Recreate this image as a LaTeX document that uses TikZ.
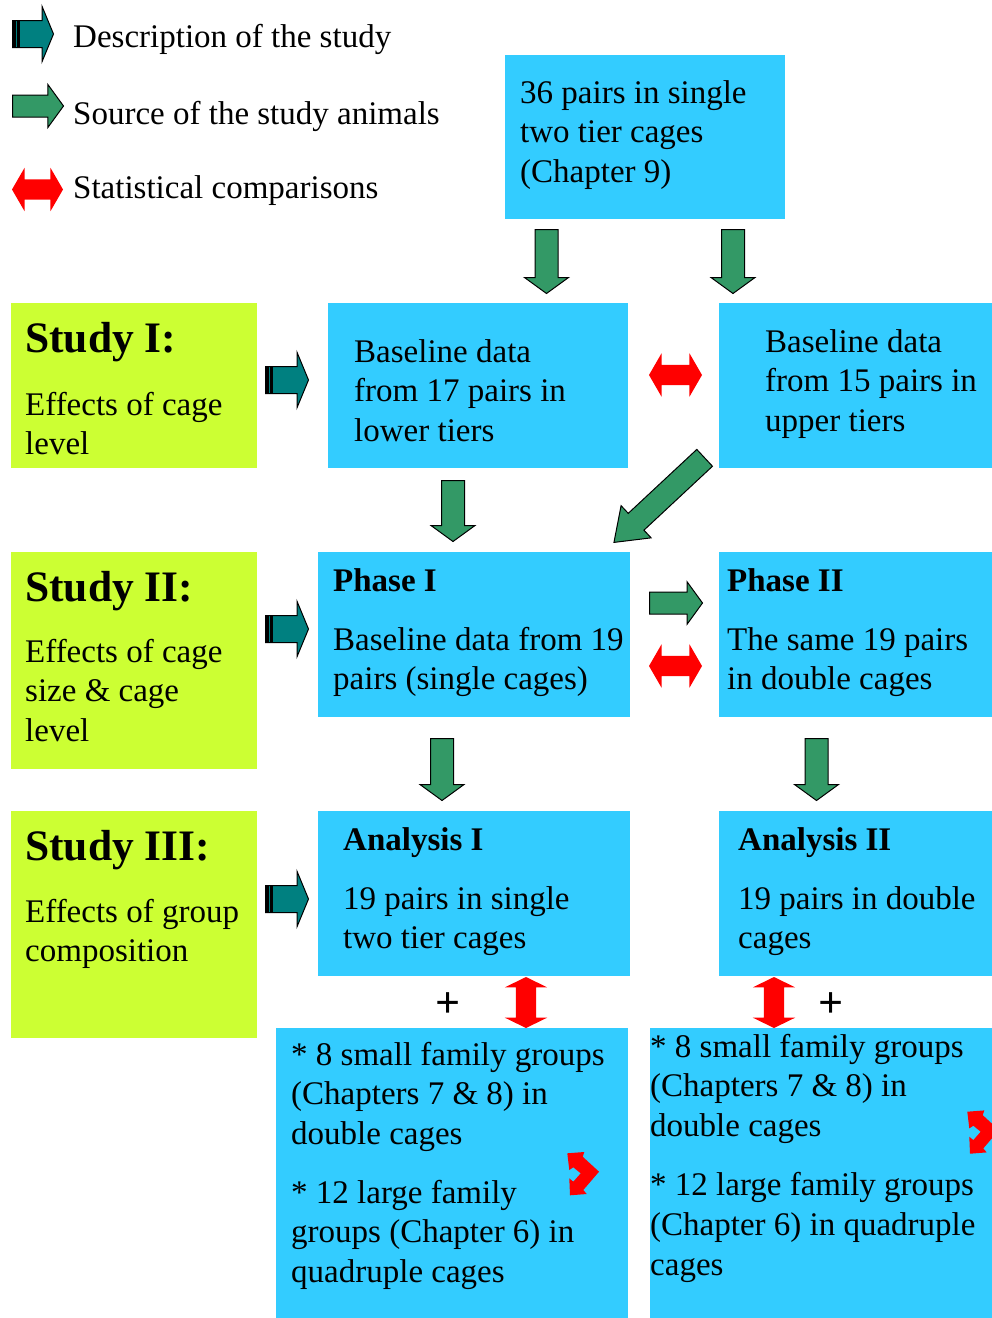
\documentclass[tikz,border=0pt]{standalone}
\usepackage{fontspec}
\setmainfont{Liberation Serif}
\usepackage{xcolor}
\usepackage{tikz}
\usetikzlibrary{shapes.arrows,positioning}
\definecolor{boxcyan}{RGB}{51,204,255}
\definecolor{studylime}{RGB}{204,255,51}
\definecolor{srcgreen}{RGB}{51,153,102}
\definecolor{descteal}{RGB}{0,128,128}
\tikzset{
  bluebox/.style={rectangle,fill=boxcyan,anchor=north west,inner sep=0pt},
  studybox/.style={rectangle,fill=studylime,anchor=north west,inner sep=0pt},
  bodytext/.style={anchor=base west,align=flush left,inner sep=0pt,text width=340pt,font=\fontsize{33}{39.6}\selectfont},
  headtext/.style={anchor=base west,inner sep=0pt,font=\fontsize{43.5}{50}\selectfont\bfseries},
  legendtext/.style={anchor=base west,inner sep=0pt,font=\fontsize{33}{39.6}\selectfont},
  plussign/.style={anchor=base,inner sep=0pt,font=\fontsize{44}{50}\selectfont\bfseries},
  srcarrow/.style={single arrow,draw=black,line width=1pt,fill=srcgreen,inner xsep=0pt,inner ysep=11pt,anchor=tail,
    minimum height=53pt,single arrow head extend=10.5pt,single arrow tip angle=108},
  descarrow/.style={single arrow,draw=black,line width=1pt,fill=descteal,inner xsep=0pt,inner ysep=13pt,anchor=tail,
    minimum height=43pt,single arrow head extend=14pt,single arrow tip angle=135,
    path picture={
      \fill[black] ([xshift=0.5pt]path picture bounding box.south west) rectangle ([xshift=3pt]path picture bounding box.north west);
      \fill[black] ([xshift=4.5pt]path picture bounding box.south west) rectangle ([xshift=7pt]path picture bounding box.north west);}},
  cmparrow/.style={double arrow,fill=red,inner xsep=0pt,inner ysep=10pt,
    minimum height=53pt,double arrow head extend=11.5pt,double arrow tip angle=120},
  pics/bentarrow/.style={code={
    \fill[red] (0,0) -- (17,-1.3) -- (15.4,3.4) -- (31.7,18.4) -- (16,36.7) -- (19.4,40.7) -- (2.7,42)
      -- (2,25) -- (6,28.4) -- (13.4,20) -- (6,14) -- (2,16.7) -- cycle;}}
}

\begin{document}
\begin{tikzpicture}[x=1pt,y=-1pt]
  \useasboundingbox (0,0) rectangle (992,1318);

  % legend
  \node[descarrow,minimum height=41pt] (legdesc) at (12,34) {};
  \node[srcarrow,minimum height=51pt,inner ysep=10.5pt] (legsrc) at (12,106) {};
  \node[cmparrow,minimum height=51pt] (legcmp) at (37.5,189.5) {};
  \node[legendtext] (legdesctext) at (73,47) {Description of the study};
  \node[legendtext] (legsrctext) at (73,124) {Source of the study animals};
  \node[legendtext] (legcmptext) at (73,198) {Statistical comparisons};

  % boxes
  \node[bluebox,minimum width=280pt,minimum height=164pt] (top) at (505,55) {};
  \node[studybox,minimum width=246pt,minimum height=165pt] (study1) at (11,303) {};
  \node[bluebox,minimum width=300pt,minimum height=165pt] (base17) at (328,303) {};
  \node[bluebox,minimum width=273pt,minimum height=165pt] (base15) at (719,303) {};
  \node[studybox,minimum width=246pt,minimum height=217pt] (study2) at (11,552) {};
  \node[bluebox,minimum width=312pt,minimum height=165pt] (phase1) at (318,552) {};
  \node[bluebox,minimum width=273pt,minimum height=165pt] (phase2) at (719,552) {};
  \node[studybox,minimum width=246pt,minimum height=227pt] (study3) at (11,811) {};
  \node[bluebox,minimum width=312pt,minimum height=165pt] (anal1) at (318,811) {};
  \node[bluebox,minimum width=273pt,minimum height=165pt] (anal2) at (719,811) {};
  \node[bluebox,minimum width=352pt,minimum height=290pt] (grpleft) at (276,1028) {};
  \node[bluebox,minimum width=342pt,minimum height=290pt] (grpright) at (650,1028) {};

  % texts
  \node[bodytext] (toptext) at ([shift={(15,48)}]top.north west) {36 pairs in single\\two tier cages\\(Chapter 9)};
  \node[headtext] (study1head) at ([shift={(14,49)}]study1.north west) {Study I:};
  \node[bodytext] (study1text) at ([shift={(14,112)}]study1.north west) {Effects of cage\\level};
  \node[bodytext] (base17text) at ([shift={(26,59)}]base17.north west) {Baseline data\\from 17 pairs in\\lower tiers};
  \node[bodytext] (base15text) at ([shift={(46,49)}]base15.north west) {Baseline data\\from 15 pairs in\\upper tiers};
  \node[headtext] (study2head) at ([shift={(14,49)}]study2.north west) {Study II:};
  \node[bodytext] (study2text) at ([shift={(14,110)}]study2.north west) {Effects of cage\\size \& cage\\level};
  \node[bodytext] (phase1text) at ([shift={(15,39)}]phase1.north west) {\textbf{Phase I}\\[19.4pt]Baseline data from 19\\pairs (single cages)};
  \node[bodytext] (phase2text) at ([shift={(8,39)}]phase2.north west) {\textbf{Phase II}\\[19.4pt]The same 19 pairs\\in double cages};
  \node[headtext] (study3head) at ([shift={(14,49)}]study3.north west) {Study III:};
  \node[bodytext] (study3text) at ([shift={(14,111)}]study3.north west) {Effects of group\\composition};
  \node[bodytext] (anal1text) at ([shift={(25,39)}]anal1.north west) {\textbf{Analysis I}\\[19.4pt]19 pairs in single\\two tier cages};
  \node[bodytext] (anal2text) at ([shift={(19,39)}]anal2.north west) {\textbf{Analysis II}\\[19.4pt]19 pairs in double\\cages};
  \node[bodytext] (grplefttext) at ([shift={(15,37)}]grpleft.north west) {* 8 small family groups\\(Chapters 7 \& 8) in\\double cages\\[19.4pt]* 12 large family\\groups (Chapter 6) in\\quadruple cages};
  \node[bodytext] (grprighttext) at ([shift={(0,29)}]grpright.north west) {* 8 small family groups\\(Chapters 7 \& 8) in\\double cages\\[20pt]* 12 large family groups\\(Chapter 6) in quadruple\\cages};

  % arrows
  \node[srcarrow,rotate=-90,minimum height=64pt] (toptobase17) at (546.5,229) {};
  \node[srcarrow,rotate=-90,minimum height=64pt] (toptobase15) at (733,229) {};
  \node[descarrow] (study1arr) at (265,380) {};
  \node[cmparrow] (cmptiers) at (675.5,375) {};
  \node[srcarrow,rotate=-90,minimum height=61pt] (base17tophase1) at (453,480) {};
  \node[srcarrow,rotate=-137,minimum height=124pt,single arrow tip angle=72] (base15tophase1) at (705,457.5) {};
  \node[descarrow] (study2arr) at (265,629) {};
  \node[srcarrow,inner ysep=10.5pt,single arrow head extend=10pt] (phase1tophase2) at (649,603) {};
  \node[cmparrow] (cmpphases) at (675.5,666) {};
  \node[srcarrow,rotate=-90,minimum height=62pt] (phase1toanal1) at (442,738) {};
  \node[srcarrow,rotate=-90,minimum height=62pt] (phase2toanal2) at (816.5,738) {};
  \node[descarrow] (study3arr) at (265,899) {};
  \node[cmparrow,rotate=90,minimum height=51pt,double arrow head extend=11pt,double arrow tip angle=128] (cmpanal1) at (526,1002.5) {};
  \node[cmparrow,rotate=90,minimum height=51pt,double arrow head extend=11pt,double arrow tip angle=128] (cmpanal2) at (774,1002.5) {};
  \node[plussign] (plusleft) at (448,1017) {+};
  \node[plussign] (plusright) at (831,1017) {+};
  \pic (bentleft) at (567.3,1153.3) {bentarrow};
  \pic (bentright) at (967.3,1111.7) {bentarrow};
\end{tikzpicture}
\end{document}
